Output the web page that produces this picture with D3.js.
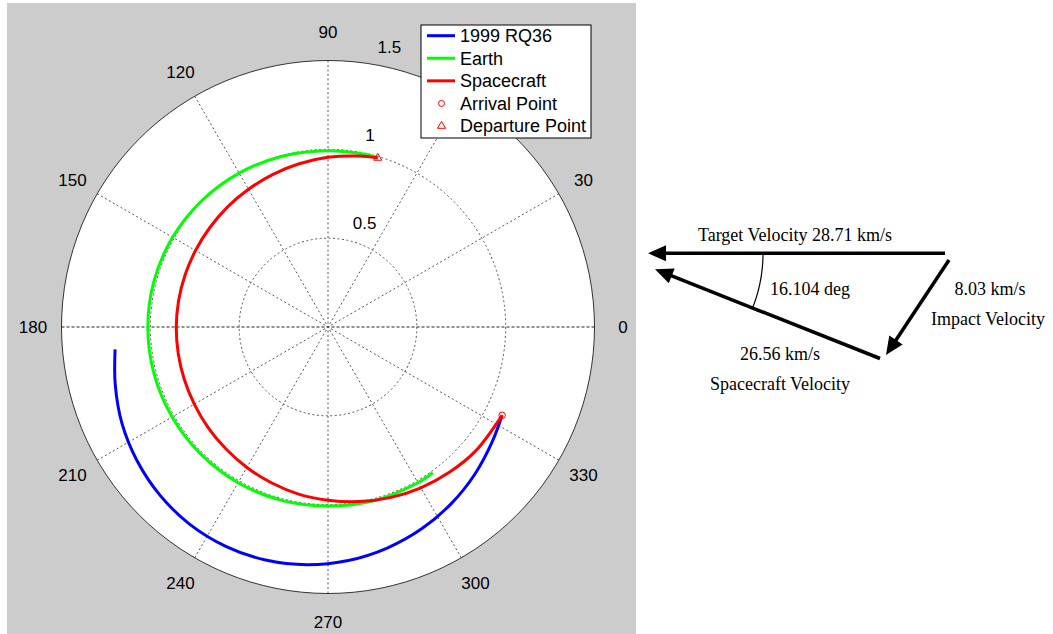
<!DOCTYPE html>
<html>
<head>
<meta charset="utf-8">
<script src="https://cdn.jsdelivr.net/npm/d3@7"></script>
<style>
  html, body { margin: 0; padding: 0; background: #ffffff; }
  svg { display: block; }
</style>
</head>
<body>
<svg id="chart" width="1053" height="634"></svg>
<script>
// ---------------- DATA ----------------
// polar angles in degrees (counter-clockwise from 0), radii in AU
const thetaRQ36 = [186, 195, 205, 215, 225, 235, 245, 255, 265, 275, 285, 295, 305, 315, 325, 333.1];
const radiusRQ36 = [1.205, 1.240, 1.280, 1.312, 1.338, 1.356, 1.362, 1.358, 1.343, 1.319, 1.288, 1.252, 1.212, 1.170, 1.128, 1.099];

const thetaEarth = [73.6, 80, 90, 105, 120, 135, 150, 165, 180, 195, 210, 225, 240, 255, 270, 285, 300, 305.7];
const radiusEarth = [0.995, 0.993, 0.992, 0.995, 1.000, 1.005, 1.010, 1.013, 1.014, 1.014, 1.013, 1.012, 1.012, 1.010, 1.008, 1.011, 1.012, 1.010];

const thetaCraft = [73.6, 80, 90, 100, 110, 120, 130, 140, 150, 160, 170, 180, 190, 200, 210, 220, 230, 240, 250, 260, 270, 280, 290, 300, 310, 320, 333.1];
const radiusCraft = [0.992, 0.977, 0.955, 0.933, 0.913, 0.895, 0.881, 0.869, 0.861, 0.856, 0.854, 0.854, 0.856, 0.861, 0.869, 0.881, 0.895, 0.913, 0.933, 0.955, 0.975, 0.998, 1.022, 1.045, 1.066, 1.085, 1.099];

const arrivalPoint = [333.1, 1.099];
const departurePoint = [73.6, 0.992];

const radialTicks = [0.5, 1, 1.5];
const radialTickLabels = ["0.5", "1", "1.5"];
const angleTicks = [0, 30, 60, 90, 120, 150, 180, 210, 240, 270, 300, 330];
// the 60 label sits under the legend box in the reference, so it is not shown
const angleTickLabels = ["0", "30", "", "90", "120", "150", "180", "210", "240", "270", "300", "330"];

const seriesNames = ["1999 RQ36", "Earth", "Spacecraft"];
const seriesColors = ["#0000ff", "#00ff00", "#ff0000"];
const markerNames = ["Arrival Point", "Departure Point"];

// velocity triangle
const velocityNames = ["Target Velocity", "Spacecraft Velocity", "Impact Velocity"];
const velocitySpeeds = [28.71, 26.56, 8.03];
const impactAngle = 16.104;

// ---------------- LAYOUT ----------------
const svg = d3.select("#chart");
const cx = 328, cy = 327, R = 266.5;
const rMax = 1.5;
const r = d3.scaleLinear().domain([0, rMax]).range([0, R]);
const ang = d3.scaleLinear().domain([0, 360]).range([Math.PI / 2, Math.PI / 2 - 2 * Math.PI]);

// gray panel
svg.append("rect").attr("x", 7).attr("y", 3).attr("width", 629).attr("height", 631).attr("fill", "#cccccc");

const g = svg.append("g").attr("transform", `translate(${cx},${cy})`);

// white disc
g.append("circle").attr("r", r(rMax)).attr("fill", "#ffffff").attr("stroke", "none");

function polarXY(deg, rad) {
  const a = ang(deg);
  return [r(rad) * Math.sin(a), -r(rad) * Math.cos(a)];
}

// spokes
angleTicks.filter(d => d < 180).forEach(d => {
  const p1 = polarXY(d, rMax), p2 = polarXY(d + 180, rMax);
  g.append("line")
    .attr("x1", p1[0]).attr("y1", p1[1]).attr("x2", p2[0]).attr("y2", p2[1])
    .attr("stroke", d === 0 ? "#222" : "#555")
    .attr("stroke-width", 1)
    .attr("stroke-dasharray", d === 0 ? "3,2" : "2,2.5");
});

// grid circles
radialTicks.forEach(t => {
  const outer = t === rMax;
  g.append("circle").attr("r", r(t)).attr("fill", "none")
    .attr("stroke", outer ? "#333" : "#555")
    .attr("stroke-width", 1)
    .attr("stroke-dasharray", outer ? null : "2,2.5");
});

// angle labels
angleTicks.forEach((d, i) => {
  if (!angleTickLabels[i]) return;
  const a = ang(d);
  const rr = 295;
  g.append("text")
    .attr("x", rr * Math.sin(a)).attr("y", -rr * Math.cos(a))
    .attr("dy", "0.36em")
    .attr("text-anchor", "middle")
    .attr("font-family", "Liberation Sans, Arial, sans-serif")
    .attr("font-size", 17)
    .attr("fill", "#000")
    .text(angleTickLabels[i]);
});

// radial labels
const labAng = 82 * Math.PI / 180;
radialTicks.forEach((t, i) => {
  g.append("text")
    .attr("x", r(t) * Math.cos(labAng) + 12.5)
    .attr("y", -r(t) * Math.sin(labAng) - 10)
    .attr("font-family", "Liberation Sans, Arial, sans-serif")
    .attr("font-size", 17)
    .attr("fill", "#000")
    .text(radialTickLabels[i]);
});

// series
const radial = d3.lineRadial()
  .angle(d => ang(d[0]))
  .radius(d => r(d[1]))
  .curve(d3.curveCatmullRom.alpha(0.5));

const series = [
  d3.zip(thetaRQ36, radiusRQ36),
  d3.zip(thetaEarth, radiusEarth),
  d3.zip(thetaCraft, radiusCraft)
];
series.forEach((pts, i) => {
  g.append("path").attr("d", radial(pts)).attr("fill", "none")
    .attr("stroke", seriesColors[i]).attr("stroke-width", 3)
    .attr("stroke-linecap", "butt");
});

// markers
const arr = polarXY(arrivalPoint[0], arrivalPoint[1]);
g.append("circle").attr("cx", arr[0]).attr("cy", arr[1]).attr("r", 3.3)
  .attr("fill", "none").attr("stroke", "#ff0000").attr("stroke-width", 1);
const dep = polarXY(departurePoint[0], departurePoint[1]);
const tri = d3.symbol().type(d3.symbolTriangle).size(28);
g.append("path").attr("d", tri()).attr("transform", `translate(${dep[0]},${dep[1]})`)
  .attr("fill", "none").attr("stroke", "#ff0000").attr("stroke-width", 1);

// legend
const lg = svg.append("g");
lg.append("rect").attr("x", 421).attr("y", 25).attr("width", 170).attr("height", 113)
  .attr("fill", "#ffffff").attr("stroke", "#000").attr("stroke-width", 1);
const legendRows = seriesNames.concat(markerNames);
const rowY = d3.scaleLinear().domain([0, 4]).range([35.7, 126]);
legendRows.forEach((name, i) => {
  const y = rowY(i);
  if (i < 3) {
    lg.append("line").attr("x1", 427).attr("x2", 455).attr("y1", y).attr("y2", y)
      .attr("stroke", seriesColors[i]).attr("stroke-width", 3);
  } else if (i === 3) {
    lg.append("circle").attr("cx", 441.5).attr("cy", y).attr("r", 3)
      .attr("fill", "none").attr("stroke", "#ff0000").attr("stroke-width", 1);
  } else {
    lg.append("path").attr("d", tri()).attr("transform", `translate(441.5,${y})`)
      .attr("fill", "none").attr("stroke", "#ff0000").attr("stroke-width", 1);
  }
  lg.append("text").attr("x", 460).attr("y", y).attr("dy", "0.36em")
    .attr("font-family", "Liberation Sans, Arial, sans-serif")
    .attr("font-size", 18).attr("fill", "#000").text(name);
});

// ---------------- VELOCITY TRIANGLE ----------------
// schematic layout in diagram units mapped through scales
const dx = d3.scaleLinear().domain([0, 100]).range([640, 960]);
const dy = d3.scaleLinear().domain([0, 100]).range([220, 400]);
const u = v => (v - 640) / 3.2;     // helpers to express layout in units
const w = v => (v - 220) / 1.8;
const arrowStart = [[u(945), w(253.3)], [u(880), w(358.5)], [u(949), w(260)]];
const arrowEnd   = [[u(648), w(253.3)], [u(655), w(269.3)], [u(886), w(355)]];

const vg = svg.append("g");
arrowStart.forEach((s, i) => {
  const x1 = dx(s[0]), y1 = dy(s[1]);
  const x2 = dx(arrowEnd[i][0]), y2 = dy(arrowEnd[i][1]);
  const L = Math.hypot(x2 - x1, y2 - y1);
  const ux = (x2 - x1) / L, uy = (y2 - y1) / L;
  const headL = 18, headW = 8;
  const bx = x2 - ux * headL, by = y2 - uy * headL;
  vg.append("line").attr("x1", x1).attr("y1", y1).attr("x2", bx + ux * 2).attr("y2", by + uy * 2)
    .attr("stroke", "#000").attr("stroke-width", 3.5);
  vg.append("path")
    .attr("d", `M${x2},${y2}L${bx - uy * headW},${by + ux * headW}L${bx + uy * headW},${by - ux * headW}Z`)
    .attr("fill", "#000");
});

// angle arc between target and spacecraft velocity lines
const arcC = [dx(u(615)), dy(w(253.3))];
const arcR = 148;
const a1 = 0, a2 = Math.atan2(308 - 253.3, 753 - 615);
const arcPts = d3.range(0, 21).map(k => {
  const a = a1 + (a2 - a1) * k / 20;
  return [arcC[0] + arcR * Math.cos(a), arcC[1] + arcR * Math.sin(a)];
});
vg.append("path").attr("d", d3.line()(arcPts)).attr("fill", "none")
  .attr("stroke", "#000").attr("stroke-width", 1.2);

const serif = "Liberation Serif, Times New Roman, serif";
const diagTexts = [
  [`${velocityNames[0]} ${velocitySpeeds[0].toFixed(2)} km/s`, 795, 241],
  [`${impactAngle.toFixed(3)} deg`, 810, 294.5],
  [`${velocitySpeeds[2].toFixed(2)} km/s`, 990, 294.5],
  [velocityNames[2], 988, 324.5],
  [`${velocitySpeeds[1].toFixed(2)} km/s`, 780, 359.5],
  [velocityNames[1], 780, 389.5]
];
diagTexts.forEach(t => {
  vg.append("text").attr("x", t[1]).attr("y", t[2]).attr("text-anchor", "middle")
    .attr("font-family", serif).attr("font-size", 18).attr("fill", "#000").text(t[0]);
});
</script>
</body>
</html>
